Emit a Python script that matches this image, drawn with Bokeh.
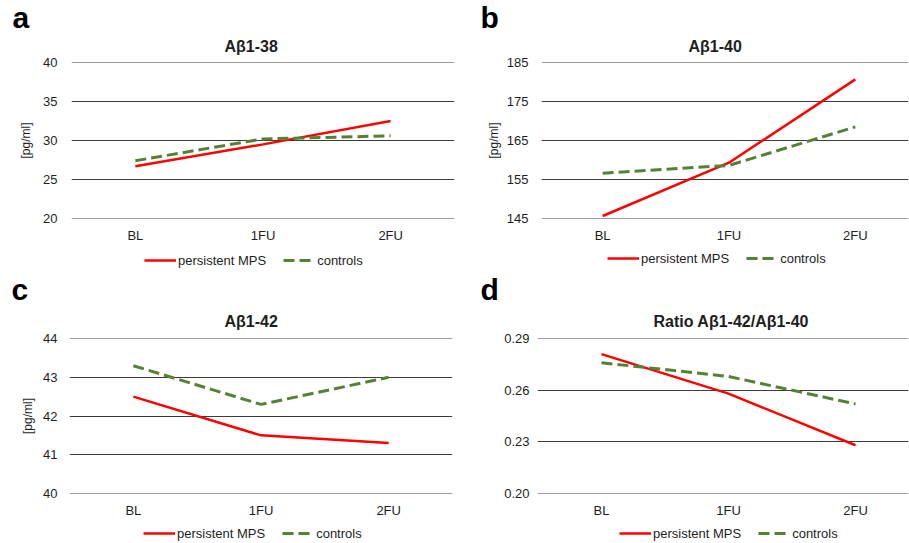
from bokeh.plotting import figure
from bokeh.layouts import column, row
from bokeh.models import (ColumnDataSource, Range1d, FixedTicker, Legend, LegendItem,
                          Title, PrintfTickFormatter)
from bokeh.embed import file_html
from bokeh.resources import INLINE

# ---------------- data ----------------
categories = ["BL", "1FU", "2FU"]
series_names = ["persistent MPS", "controls"]

ab38_mps = [26.7, 29.5, 32.5]
ab38_ctrl = [27.4, 30.2, 30.6]
ab38_ticks = [20, 25, 30, 35, 40]

ab40_mps = [145.6, 159.3, 180.7]
ab40_ctrl = [156.6, 158.6, 168.5]
ab40_ticks = [145, 155, 165, 175, 185]

ab42_mps = [42.5, 41.5, 41.3]
ab42_ctrl = [43.3, 42.3, 43.0]
ab42_ticks = [40, 41, 42, 43, 44]

ratio_mps = [0.281, 0.258, 0.228]
ratio_ctrl = [0.276, 0.268, 0.252]
ratio_ticks = [0.20, 0.23, 0.26, 0.29]

titles = ["Aβ1-38", "Aβ1-40", "Aβ1-42", "Ratio Aβ1-42/Aβ1-40"]
letters = ["a", "b", "c", "d"]
y_label = "[pg/ml]"

FONT = "Liberation Sans"
RED = "#FF0000"
GREEN = "#548235"
TXT = "#1e1e1e"
GRID = "#3c3c3c"
RED_STYLE = dict(line_color=RED, line_width=2.5)
GREEN_STYLE = dict(line_color=GREEN, line_width=3, line_dash="11 5")


def letter_title(letter, offset, standoff):
    kw = dict(text=letter, align="left", offset=offset, text_font=FONT,
              text_font_size="30px", text_font_style="bold", text_color="#000000")
    try:
        return Title(standoff=standoff, **kw)
    except Exception:
        return Title(standoff=0, **kw)


def make_panel(title, letter, mps, ctrl, ticks, fmt, ylabel, width, height,
               b_left, b_right, b_top, b_bottom, x_start, x_end,
               title_offset, title_standoff, letter_offset, letter_standoff,
               tick_standoff, label_standoff):
    xs = list(range(len(categories)))
    src = ColumnDataSource(dict(x=xs, mps=mps, ctrl=ctrl))
    eps = (ticks[-1] - ticks[0]) * 1e-3
    p = figure(width=width, height=height, output_backend="svg", toolbar_location=None,
               x_range=Range1d(x_start, x_end),
               y_range=Range1d(ticks[0] - eps, ticks[-1] + eps),
               min_border_left=b_left, min_border_right=b_right,
               min_border_top=b_top, min_border_bottom=b_bottom,
               title=None)
    p.outline_line_color = None

    # chart title (closest to the frame), then the panel letter above it
    p.add_layout(Title(text=title, align="left", offset=title_offset,
                       standoff=title_standoff, text_font=FONT, text_font_size="16px",
                       text_font_style="bold", text_color=TXT), "above")
    p.add_layout(letter_title(letter, letter_offset, letter_standoff), "above")

    p.line("x", "mps", source=src, **RED_STYLE)
    p.line("x", "ctrl", source=src, **GREEN_STYLE)

    # axes
    p.xaxis.ticker = FixedTicker(ticks=xs)
    p.xaxis.major_label_overrides = {i: c for i, c in zip(xs, categories)}
    p.yaxis.ticker = FixedTicker(ticks=ticks)
    p.yaxis.formatter = PrintfTickFormatter(format=fmt)
    for ax in (p.xaxis[0], p.yaxis[0]):
        ax.axis_line_color = None
        ax.major_tick_line_color = None
        ax.minor_tick_line_color = None
        ax.major_label_text_font = FONT
        ax.major_label_text_font_size = "13px"
        ax.major_label_text_color = TXT
    p.xaxis.major_label_standoff = 3
    p.yaxis.major_label_standoff = tick_standoff
    if ylabel:
        p.yaxis.axis_label = ylabel
        p.yaxis.axis_label_text_font = FONT
        p.yaxis.axis_label_text_font_size = "12px"
        p.yaxis.axis_label_text_font_style = "normal"
        p.yaxis.axis_label_text_color = TXT
        p.yaxis.axis_label_standoff = label_standoff

    p.xgrid.grid_line_color = None
    p.ygrid.grid_line_color = GRID
    p.ygrid.grid_line_width = 1
    return p


def make_legend(mps, ctrl, width, height, lx, ly):
    # legend-only strip: the series lie outside its (empty) view, only the key shows
    xs = list(range(len(categories)))
    src = ColumnDataSource(dict(x=xs, mps=mps, ctrl=ctrl))
    lg = figure(width=width, height=height, output_backend="svg", toolbar_location=None,
                x_range=Range1d(0, 1), y_range=Range1d(-2, -1), title=None,
                x_axis_location=None, y_axis_location=None, min_border=0)
    lg.outline_line_color = None
    lg.grid.grid_line_color = None
    r1 = lg.line("x", "mps", source=src, **RED_STYLE)
    r2 = lg.line("x", "ctrl", source=src, **GREEN_STYLE)
    legend = Legend(items=[LegendItem(label=series_names[0], renderers=[r1]),
                           LegendItem(label=series_names[1], renderers=[r2])],
                    orientation="horizontal", location=(lx, ly),
                    glyph_width=32, glyph_height=16, label_height=16,
                    label_standoff=2, spacing=17, padding=0, margin=0,
                    border_line_color=None, background_fill_alpha=0,
                    label_text_font=FONT, label_text_font_size="13px",
                    label_text_color=TXT)
    lg.add_layout(legend)
    return lg


pa = make_panel(titles[0], letters[0], ab38_mps, ab38_ctrl, ab38_ticks, "%d", y_label,
                455, 245, 71, 1, 62, 27, -0.5, 2.5, 153, 16, -59, -13, 8, 7)
pb = make_panel(titles[1], letters[1], ab40_mps, ab40_ctrl, ab40_ticks, "%d", y_label,
                453, 245, 86, 0, 62, 27, -0.484, 2.421, 147, 16, -61, -13, 7, 3)
pc = make_panel(titles[2], letters[2], ab42_mps, ab42_ctrl, ab42_ticks, "%d", y_label,
                455, 245, 69, 3, 61, 25, -0.5, 2.5, 155, 18, -58, -9, 6, 5)
pd = make_panel(titles[3], letters[3], ratio_mps, ratio_ctrl, ratio_ticks, "%.2f", None,
                453, 245, 82, 0, 61, 25, -0.504, 2.417, 116, 18, -57, -9, 2, 5)

la = make_legend(ab38_mps, ab38_ctrl, 455, 30, 144, 7)
lb = make_legend(ab40_mps, ab40_ctrl, 453, 30, 152, 9)
lc = make_legend(ab42_mps, ab42_ctrl, 455, 21, 143, 0)
ld = make_legend(ratio_mps, ratio_ctrl, 453, 21, 164, 0)

layout = column(row(pa, pb), row(la, lb), row(pc, pd), row(lc, ld))

with open("out.html", "w") as f:
    f.write(file_html(layout, INLINE))
